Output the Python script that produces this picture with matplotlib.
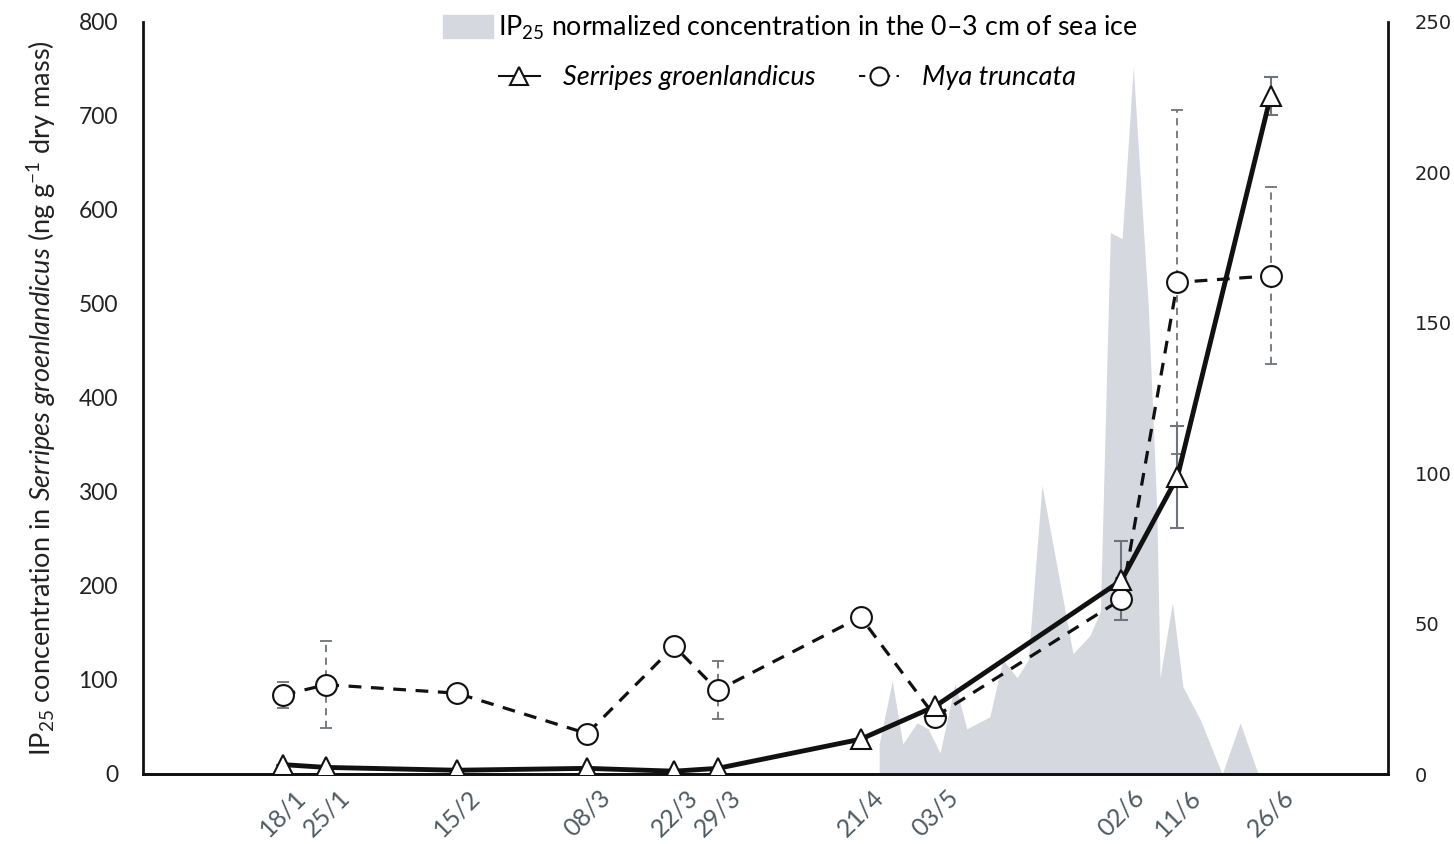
import matplotlib
matplotlib.use("Agg")
import matplotlib.pyplot as plt
from matplotlib.lines import Line2D
from matplotlib.patches import Patch
import numpy as np

plt.rcParams['font.family'] = ['Lato', 'DejaVu Sans']
plt.rcParams['mathtext.fontset'] = 'custom'
plt.rcParams['mathtext.rm'] = 'Lato'
plt.rcParams['mathtext.it'] = 'Lato:italic'

# sampling dates as day of year
dates = [18, 25, 46, 67, 81, 88, 111, 123, 153, 162, 177]
date_labels = ['18/1', '25/1', '15/2', '08/3', '22/3', '29/3', '21/4', '03/5', '02/6', '11/6', '26/6']

serripes = [10, 7, 4, 6, 3, 6, 37, 72, 206, 316, 721]
serripes_err = [0, 0, 0, 0, 0, 0, 0, 0, 42, 54, 20]
mya = [84, 95, 86, 43, 136, 89, 167, 61, 186, 523, 530]
mya_err = [14, 46, 0, 0, 0, 31, 0, 0, 22, 183, 94]

# IP25 in sea ice (right axis)
ice_day = [114.0, 114.0, 116.1, 117.8, 120.1, 121.9, 123.8, 126.2, 128.1, 131.8, 133.9,
           136.2, 138.0, 140.2, 145.2, 147.9, 149.6, 151.2, 153.1, 154.9, 157.3,
           158.7, 159.2, 161.2, 162.9, 165.7, 169.2, 172.1, 175.0]
ice_val = [0, 10, 31, 10, 17, 15, 7, 30, 15, 19, 38,
           32, 38, 96, 40, 46, 54, 180, 178, 235, 156,
           87, 32, 57, 29, 18, 0, 17, 0]

fill_col = '#d5d8df'
err_col = '#6e7479'
tick_col = '#4f5b62'

fig = plt.figure(figsize=(14.54, 8.44), dpi=100)
ax = fig.add_axes([143/1454, 1-774/844, (1388-143)/1454, (774-22)/844])
ax2 = ax.twinx()

ax2.fill_between(ice_day, ice_val, 0, color=fill_col, lw=0)
ax2.set_ylim(0, 250)
ax2.set_yticks([0, 50, 100, 150, 200, 250])
ax2.tick_params(axis='y', length=0, pad=19)
for t in ax2.get_yticklabels():
    t.set_fontfamily('DejaVu Sans')
    t.set_fontsize(14)
    t.set_color('#222222')

ax.set_zorder(ax2.get_zorder() + 1)
ax.patch.set_visible(False)

eb = ax.errorbar(dates, mya, yerr=mya_err, fmt='none', ecolor=err_col, elinewidth=1.3,
                 capsize=4, capthick=1.3, zorder=2)
eb[2][0].set_linestyle((0, (4, 3)))
ax.errorbar(dates, serripes, yerr=serripes_err, fmt='none', ecolor=err_col, elinewidth=1.5,
            capsize=5, capthick=1.5, zorder=2)
ax.plot(dates, mya, ls=(0, (4, 3)), color='#111111', lw=2.3, marker='o', ms=15,
        mfc='white', mec='#111111', mew=1.5, zorder=3)
ax.plot(dates, serripes, ls='-', color='#111111', lw=3.5, marker='^', ms=15,
        mfc='white', mec='#111111', mew=1.5, zorder=4)

ax.set_xlim(-4.5, 195.9)
ax.set_ylim(0, 800)
ax.set_yticks(np.arange(0, 801, 100))
ax.set_xticks(dates)
ax.set_xticklabels(date_labels, rotation=45, color=tick_col, fontsize=18)
ax.tick_params(axis='x', length=0, pad=8)
ax.tick_params(axis='y', length=0, pad=18, labelsize=16.5, labelcolor='#222222')

for a in (ax, ax2):
    a.spines['top'].set_visible(False)
    for s in ('left', 'right', 'bottom'):
        a.spines[s].set_linewidth(2)
        a.spines[s].set_color('#111111')
ax.spines['right'].set_visible(False)
ax2.spines['left'].set_visible(False)

ax.set_ylabel(r'IP$_{25}$ concentration in $\mathit{Serripes\ groenlandicus}$ (ng g$^{-1}$ dry mass)',
              fontsize=19.5, color='#222222')
ax.yaxis.set_label_coords(-0.068, 0.5)

leg1 = fig.legend(handles=[Patch(color=fill_col)],
                  labels=[r'IP$_{25}$ normalized concentration in the 0–3 cm of sea ice'],
                  loc='upper left', bbox_to_anchor=(443/1454, 1-14/844), frameon=False,
                  fontsize=19.3, handlelength=1.85, handleheight=0.95, handletextpad=0.2,
                  borderpad=0, borderaxespad=0)
h_s = Line2D([], [], color='#111111', lw=1.5, marker='^', ms=13, mfc='white', mec='#111111', mew=1.5)
h_m = Line2D([], [], color='#111111', lw=1.5, ls=(0, (3, 3)), marker='o', ms=13, mfc='white',
             mec='#111111', mew=1.5)
leg2 = fig.legend(handles=[h_s, h_m], labels=['Serripes groenlandicus', 'Mya truncata'],
                  loc='upper left', bbox_to_anchor=(499/1454, 1-65/844), frameon=False,
                  ncol=2, handlelength=1.5, handletextpad=0.85,
                  columnspacing=1.6, borderpad=0, borderaxespad=0,
                  prop={'style': 'italic', 'size': 19.5})

fig.savefig('out.png', dpi=100)
